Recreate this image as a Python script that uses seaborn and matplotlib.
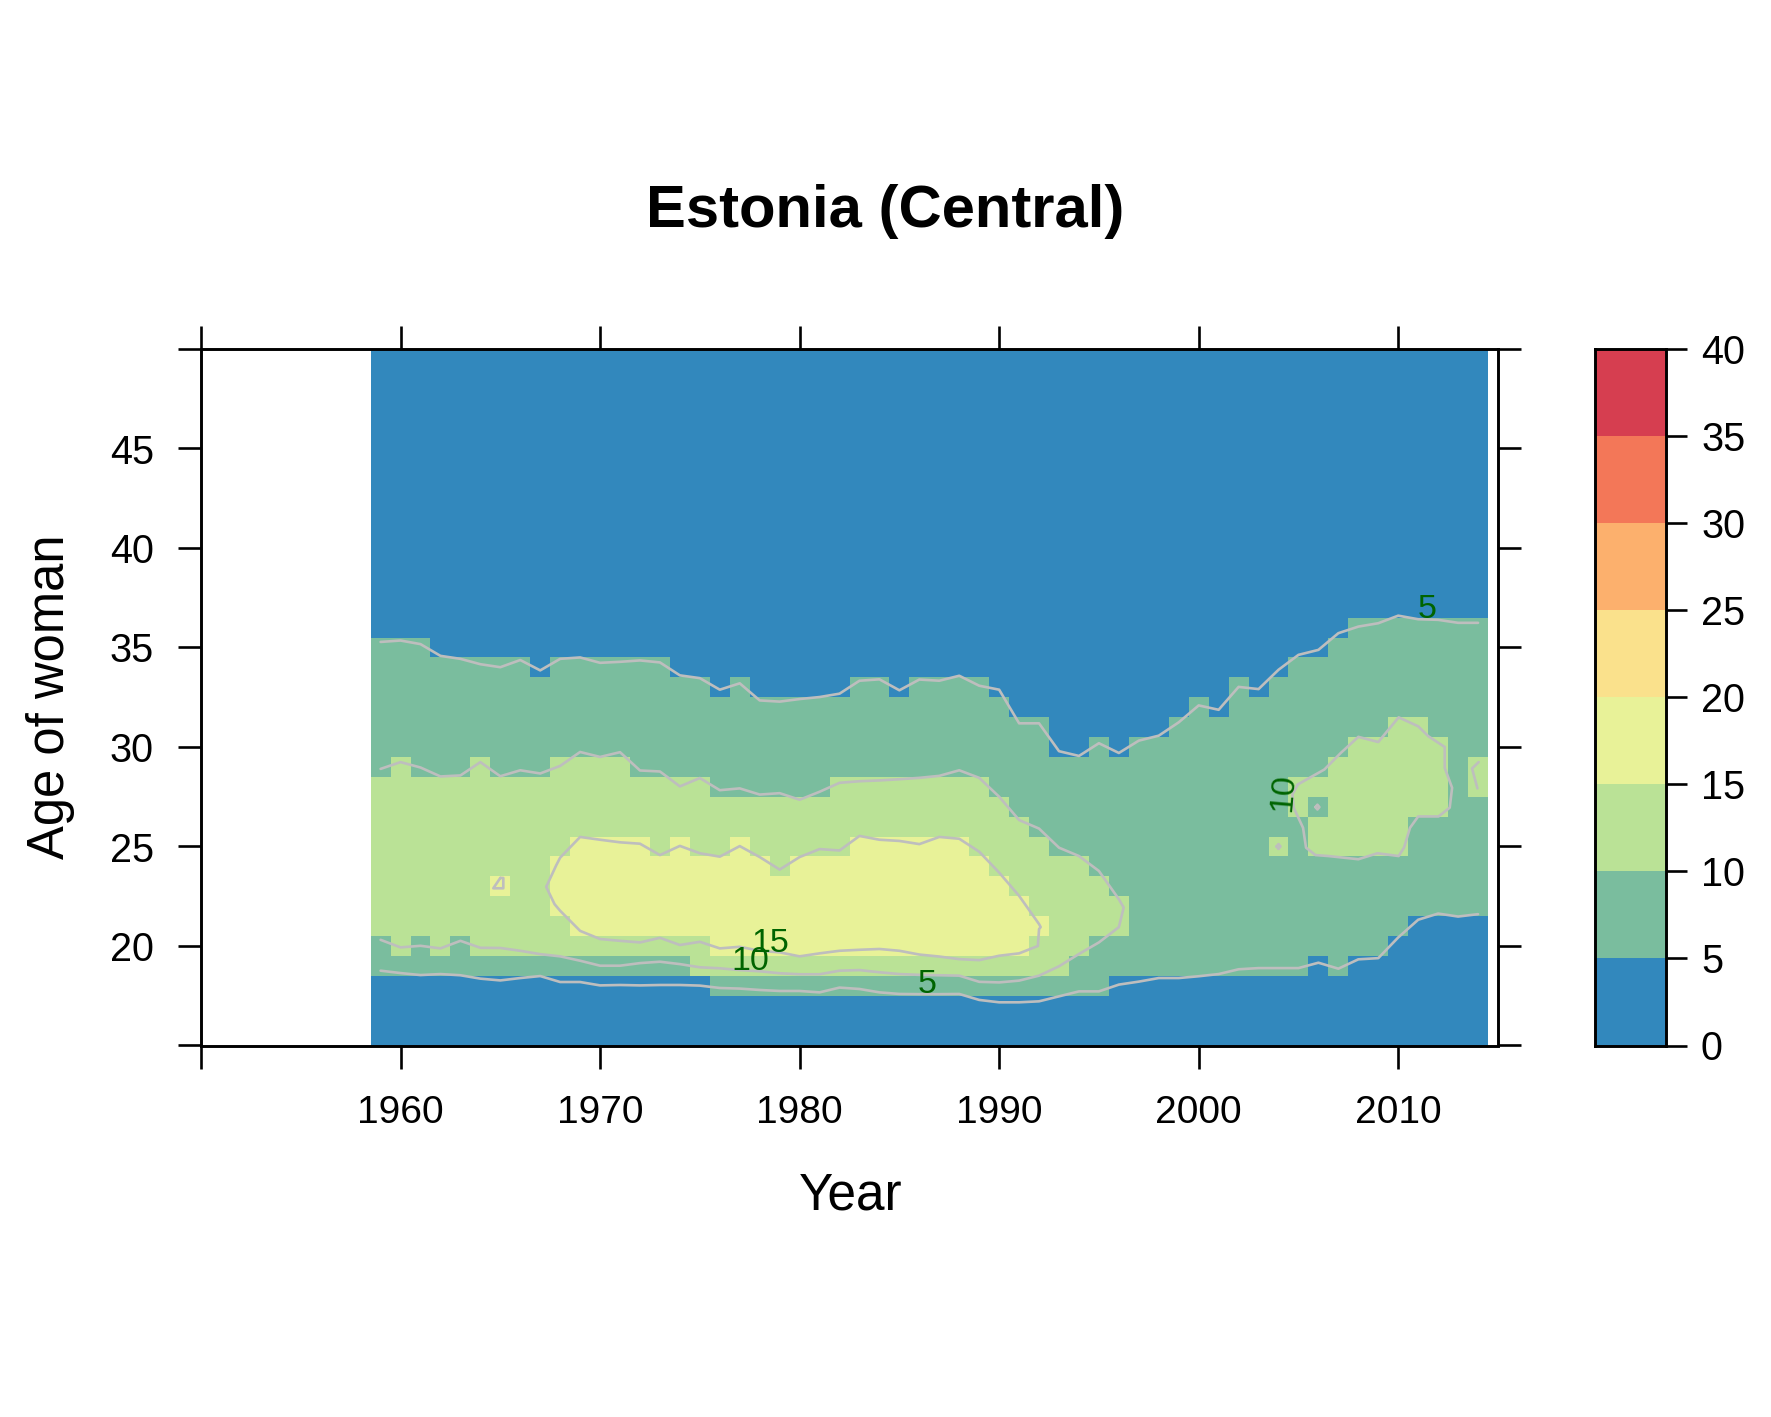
import numpy as np
import pandas as pd
import matplotlib
matplotlib.use("Agg")
import matplotlib.pyplot as plt
from matplotlib.colors import ListedColormap
import seaborn as sns

years = list(range(1959, 2015))
ages = list(range(15, 51))
band_edges = [0, 5, 10, 15, 20, 25, 30, 35, 40]
band_colors = ["#3288BD", "#7ABD9E", "#BAE296", "#E8F298", "#FAE18C", "#FCB06D", "#F37758", "#D63E50"]

# contour crossings read per calendar year
upper_5 = [35.28, 35.35, 35.17, 34.58, 34.43, 34.16, 34.01, 34.37, 33.85, 34.43, 34.50, 34.23, 34.28, 34.35,
           34.25, 33.60, 33.46, 32.88, 33.20, 32.34, 32.28, 32.41, 32.51, 32.68, 33.33, 33.40, 32.85, 33.39,
           33.33, 33.58, 33.08, 32.88, 31.19, 31.19, 29.79, 29.55, 30.19, 29.70, 30.32, 30.57, 31.24, 32.09,
           31.87, 33.02, 32.91, 33.88, 34.63, 34.88, 35.72, 36.05, 36.22, 36.60, 36.42, 36.39, 36.24, 36.24]
lower_5 = [18.76, 18.64, 18.54, 18.59, 18.53, 18.36, 18.27, 18.39, 18.49, 18.19, 18.19, 18.02, 18.04, 18.02,
           18.04, 18.04, 18.01, 17.89, 17.86, 17.79, 17.74, 17.74, 17.67, 17.91, 17.84, 17.67, 17.59, 17.58,
           17.58, 17.59, 17.29, 17.17, 17.17, 17.22, 17.47, 17.72, 17.72, 18.06, 18.21, 18.39, 18.39, 18.48,
           18.59, 18.83, 18.89, 18.89, 18.89, 19.16, 18.86, 19.33, 19.39, 20.43, 21.32, 21.63, 21.48, 21.60]
years_10 = list(range(1959, 1997))
upper_10 = [28.90, 29.24, 28.97, 28.52, 28.57, 29.24, 28.53, 28.83, 28.67, 29.05, 29.75, 29.50, 29.74, 28.82,
            28.77, 28.02, 28.44, 27.83, 27.92, 27.61, 27.68, 27.35, 27.75, 28.20, 28.28, 28.32, 28.38, 28.45,
            28.55, 28.83, 28.45, 27.50, 26.33, 25.90, 24.94, 24.52, 23.77, 22.35]
lower_10 = [20.31, 19.93, 20.01, 19.88, 20.26, 19.91, 19.90, 19.76, 19.59, 19.48, 19.26, 19.01, 19.01, 19.14,
            19.21, 19.09, 18.93, 18.88, 18.79, 18.73, 18.63, 18.58, 18.58, 18.76, 18.79, 18.68, 18.59, 18.55,
            18.53, 18.51, 18.20, 18.17, 18.26, 18.51, 18.98, 19.60, 20.18, 20.95]
nose_10 = (1996.24, 21.93)
years_15 = list(range(1968, 1993))
upper_15 = [24.44, 25.48, 25.34, 25.21, 25.14, 24.57, 25.03, 24.66, 24.49, 25.02, 24.47, 23.84, 24.47, 24.87,
            24.80, 25.53, 25.34, 25.28, 25.12, 25.48, 25.39, 24.74, 23.69, 22.52, 21.10]
lower_15 = [21.77, 20.76, 20.35, 20.26, 20.18, 20.41, 20.05, 20.21, 19.88, 19.96, 19.76, 19.68, 19.48, 19.63,
            19.76, 19.81, 19.85, 19.76, 19.57, 19.47, 19.34, 19.29, 19.51, 19.63, 20.85]
left_15_x = [1967.72, 1967.30, 1967.80]
left_15_y = [22.10, 22.97, 24.05]
right_15 = (1992.08, 20.95)
right_15_low = (1991.94, 20.00)

# closed 10-level contour of the right hand island
island_x = [2004.97, 2006.30, 2007.12, 2008.00, 2009.00, 2010.02, 2011.00, 2011.51, 2012.33, 2012.33, 2012.70,
            2012.58, 2012.02, 2011.00, 2010.59, 2010.29, 2010.02, 2008.96, 2008.00, 2006.50, 2005.85, 2005.38,
            2005.23, 2004.76, 2004.70, 2004.97]
island_y = [28.12, 28.87, 29.70, 30.51, 30.25, 31.49, 31.04, 30.54, 30.00, 28.95, 27.95, 26.95, 26.51, 26.51,
            25.94, 24.94, 24.52, 24.66, 24.36, 24.52, 24.57, 24.94, 25.94, 26.95, 27.62, 28.12]
island_years = [2005, 2006, 2007, 2008, 2009, 2010, 2011, 2012]
island_top = [28, 28, 29, 30, 30, 31, 31, 30]
island_bottom = [27, 25, 25, 25, 25, 25, 27, 27]

# tiny contours
tiny_15_x = [1965.00, 1964.65, 1965.15, 1965.15, 1965.00]
tiny_15_y = [23.42, 22.90, 22.90, 23.42, 23.42]
dot_a_x = [2003.90, 2004.00, 2004.10, 2004.00, 2003.90]
dot_a_y = [25.00, 25.12, 25.00, 24.88, 25.00]
dot_b_x = [2005.85, 2005.95, 2006.05, 2005.95, 2005.85]
dot_b_y = [26.98, 27.10, 26.98, 26.86, 26.98]
edge_x = [2014.03, 2013.70, 2013.97]
edge_y = [29.24, 28.92, 27.92]

# single cells that stand apart from their neighbours: year, age, rate
single_cells = [(1965, 23, 17.5), (2004, 25, 12.5), (2006, 27, 7.5), (2014, 28, 12.5), (2014, 29, 12.5)]

line_labels = ["15", "10", "5", "5", "10"]
label_x = [1978.55, 1977.55, 1986.4, 2011.45, 2004.25]
label_y = [20.12, 19.22, 18.05, 36.92, 27.70]
label_rot = [0, 0, 0, 0, 85]

xticks = [1950, 1960, 1970, 1980, 1990, 2000, 2010]
xtick_labels = ["", "1960", "1970", "1980", "1990", "2000", "2010"]
yticks = [15, 20, 25, 30, 35, 40, 45, 50]
ytick_labels = ["", "20", "25", "30", "35", "40", "45", ""]

# ---------------------------------------------------------------- table of rates
rates = pd.DataFrame(2.5, index=ages, columns=years, dtype=float)
for i, y in enumerate(years):
    a5 = [a for a in ages if lower_5[i] <= a <= upper_5[i]]
    rates.loc[a5, y] = 7.5
for i, y in enumerate(years_10):
    rates.loc[[a for a in ages if lower_10[i] <= a <= upper_10[i]], y] = 12.5
for i, y in enumerate(years_15):
    rates.loc[[a for a in ages if lower_15[i] <= a <= upper_15[i]], y] = 17.5
for y, top, bottom in zip(island_years, island_top, island_bottom):
    rates.loc[bottom:top, y] = 12.5
for y, a, v in single_cells:
    rates.loc[a, y] = v

sns.set_style("white")
plt.rcParams["font.family"] = ["Liberation Sans", "DejaVu Sans"]
plt.rcParams["text.color"] = "black"
W, H = 1771, 1417
fig = plt.figure(figsize=(W / 100, H / 100), dpi=100, facecolor="white")


def box(left, top, right, bottom):
    return [left / W, 1 - bottom / H, (right - left) / W, (bottom - top) / H]


ax = fig.add_axes(box(201, 349, 1498, 1045.5))
cmap = ListedColormap(band_colors)
sns.heatmap(rates, ax=ax, cmap=cmap, vmin=band_edges[0], vmax=band_edges[-1], cbar=False,
            xticklabels=False, yticklabels=False)


def fx(v):
    return np.asarray(v, dtype=float) - (years[0] - 0.5)


def fy(v):
    return np.asarray(v, dtype=float) - (ages[0] - 0.5)


ax.set_xlim(fx(1950), fx(2015))
ax.set_ylim(fy(15), fy(50))

contour_style = dict(color="#BEBEBE", lw=1.9, solid_joinstyle="round", zorder=3)
ax.plot(fx(years), fy(upper_5), **contour_style)
ax.plot(fx(years), fy(lower_5), **contour_style)
ax.plot(fx(years_10 + [nose_10[0]] + years_10[::-1]), fy(upper_10 + [nose_10[1]] + lower_10[::-1]), **contour_style)
loop_x = left_15_x[1:] + years_15 + [right_15[0]] + [years_15[-1], right_15_low[0]] + years_15[-2::-1] + left_15_x[:2]
loop_y = left_15_y[1:] + upper_15 + [right_15[1]] + [lower_15[-1], right_15_low[1]] + lower_15[-2::-1] + left_15_y[:2]
ax.plot(fx(loop_x), fy(loop_y), **contour_style)
ax.plot(fx(island_x), fy(island_y), **contour_style)
for xs, ys in [(tiny_15_x, tiny_15_y), (dot_a_x, dot_a_y), (dot_b_x, dot_b_y), (edge_x, edge_y)]:
    ax.plot(fx(xs), fy(ys), **contour_style)

for t, x, y, r in zip(line_labels, label_x, label_y, label_rot):
    ax.text(fx(x), fy(y), t, color="#006400", fontsize=24.5, rotation=r, ha="center", va="center", zorder=4)

ax.set_xticks(fx(xticks))
ax.set_xticklabels(xtick_labels)
ax.set_yticks(fy(yticks))
ax.set_yticklabels(ytick_labels, rotation=0)
ax.set_xlabel("")
ax.set_ylabel("")
ax.tick_params(axis="x", which="major", direction="out", length=16.3, width=1.9, top=True, bottom=True,
               labelsize=28, pad=19, color="black", labelcolor="black")
ax.tick_params(axis="y", which="major", direction="out", length=16.3, width=1.9, left=True, right=True,
               labelsize=28.5, pad=17.6, color="black", labelcolor="black")
for s in ax.spines.values():
    s.set_visible(True)
    s.set_linewidth(2.1)
    s.set_color("black")

# ---------------------------------------------------------------- colour key
key_values = [(a + b) / 2 for a, b in zip(band_edges[:-1], band_edges[1:])]
key = pd.DataFrame({"rate": key_values})
cax = fig.add_axes(box(1595, 349, 1666, 1045.5))
sns.heatmap(key, ax=cax, cmap=cmap, vmin=band_edges[0], vmax=band_edges[-1], cbar=False,
            xticklabels=False, yticklabels=False)
cax.set_ylim(0, len(key_values))
cax.set_xticks([])
cax.set_yticks(np.arange(len(band_edges)))
cax.set_yticklabels([str(v) for v in band_edges], rotation=0)
cax.set_ylabel("")
cax.yaxis.tick_right()
cax.tick_params(axis="y", which="major", direction="out", length=15, width=1.9, right=True, left=False,
                labelsize=28.5, pad=10.2, color="black", labelcolor="black")
for s in cax.spines.values():
    s.set_visible(True)
    s.set_linewidth(2.1)
    s.set_color("black")

fig.text(885.5 / W, 1 - 211.5 / H, "Estonia (Central)", fontsize=43, fontweight="bold", color="black", ha="center", va="center")
fig.text(850.5 / W, 1 - 1196.5 / H, "Year", fontsize=37, color="black", ha="center", va="center")
fig.text(50.5 / W, 1 - 697 / H, "Age of woman", fontsize=36.5, color="black", rotation=90, ha="center", va="center")

fig.savefig("out.png", dpi=100, facecolor="white")
